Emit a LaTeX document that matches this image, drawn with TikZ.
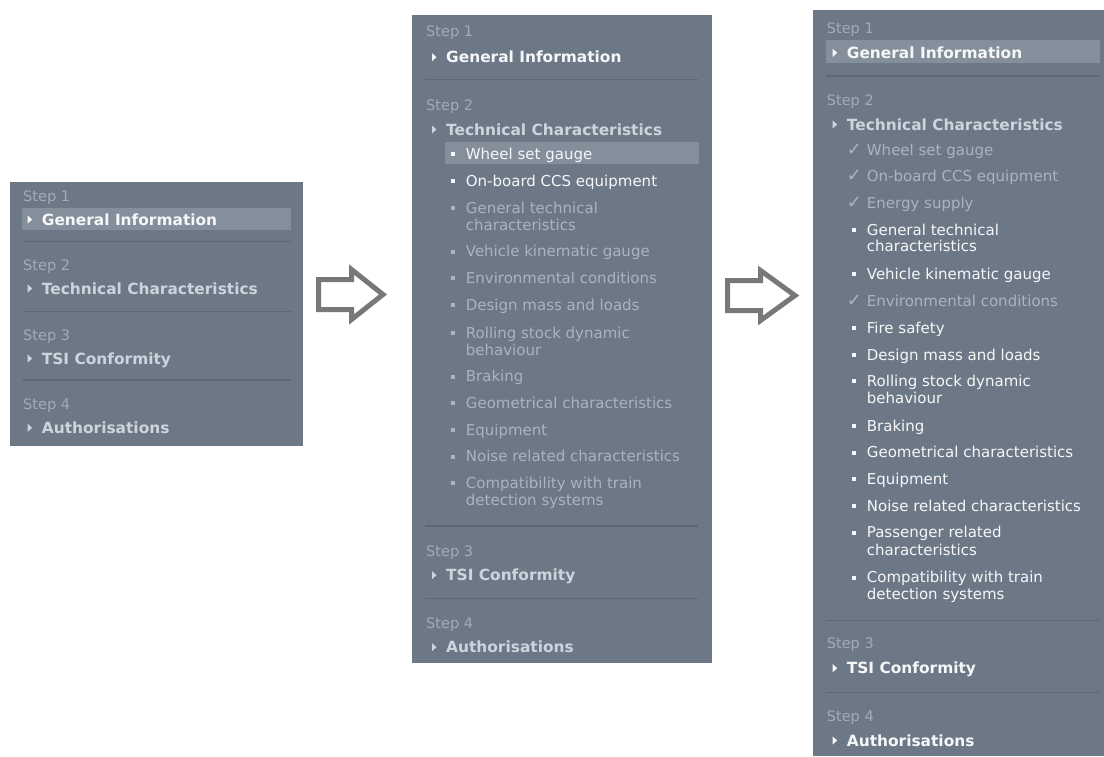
\documentclass[tikz,border=0pt]{standalone}
\usepackage{fontspec}
\newfontfamily\dv{DejaVu Sans}
\definecolor{panelbg}{HTML}{6D7886}
\definecolor{barbg}{HTML}{858F9C}
\definecolor{divline}{HTML}{5E6874}
\definecolor{stepgray}{HTML}{A2ACB7}
\definecolor{dimtxt}{HTML}{ABB4BE}
\definecolor{lighttxt}{HTML}{CDD4DB}
\definecolor{brighttxt}{HTML}{F6F7F9}
\definecolor{arrowgray}{HTML}{787878}
\tikzset{
  steplbl/.style={anchor=base west, inner sep=0pt, text=stepgray, font=\dv\fontsize{14.5}{17}\selectfont},
  headlbl/.style={anchor=base west, inner sep=0pt, font=\dv\bfseries\fontsize{15.4}{18}\selectfont},
  itemlbl/.style={anchor=base west, inner sep=0pt, font=\dv\fontsize{15}{17}\selectfont},
  checklbl/.style={anchor=base west, inner sep=0pt, font=\dv\fontsize{18}{18}\selectfont},
  panel/.style={fill=panelbg},
  hbar/.style={fill=barbg},
  divider/.style={draw=divline, line width=1.2pt},
  bigarrow/.style={draw=arrowgray, line width=5pt, line join=miter, fill=white},
}
% heading with triangle: name, x, y, colour, text
\newcommand{\Head}[5]{%
  \fill[#4] (#2-14,#3-9.5) -- (#2-14,#3-1.5) -- (#2-9.5,#3-5.5) -- cycle;
  \node[headlbl, text=#4] (#1) at (#2,#3) {#5};}
% bulleted item: name, x, y, colour, text
\newcommand{\BItem}[5]{%
  \fill[#4] (#2-15,#3-7) rectangle (#2-11,#3-3);
  \node[itemlbl, text=#4] (#1) at (#2,#3) {#5};}
% continuation line: name, x, y, colour, text
\newcommand{\CItem}[5]{%
  \node[itemlbl, text=#4] (#1) at (#2,#3) {#5};}
% checked item: name, x, y, colour, text
\newcommand{\KItem}[5]{%
  \node[checklbl, text=#4] (#1c) at (#2-20,#3) {✓};
  \node[itemlbl, text=#4] (#1) at (#2,#3) {#5};}
\begin{document}
\begin{tikzpicture}[x=1pt, y=-1pt]
\useasboundingbox (0,0) rectangle (1104,756);
\fill[white] (0,0) rectangle (1104,756);

% ---------------- Panel 1 ----------------
\fill[panel] (10,182) rectangle (303,446);
\fill[hbar] (21.7,207.7) rectangle (291,230);
\node[steplbl] (a1) at (23,201.7) {Step 1};
\Head{ah1}{41.7}{225}{brighttxt}{General Information}
\draw[divider] (22.7,241.7) -- (291,241.7);
\node[steplbl] (a2) at (23,270.7) {Step 2};
\Head{ah2}{41.7}{294}{lighttxt}{Technical Characteristics}
\draw[divider] (22.7,311.7) -- (291,311.7);
\node[steplbl] (a3) at (23,340) {Step 3};
\Head{ah3}{41.7}{364}{lighttxt}{TSI Conformity}
\draw[divider] (22.7,380) -- (291,380);
\node[steplbl] (a4) at (23,409) {Step 4};
\Head{ah4}{41.7}{433.3}{lighttxt}{Authorisations}

% ---------------- Arrow 1 ----------------
\draw[bigarrow] (318.5,279.5) -- (351.5,279.5) -- (351.5,269.5) -- (383,294.5)
  -- (351.5,319.5) -- (351.5,309.5) -- (318.5,309.5) -- cycle;

% ---------------- Panel 2 ----------------
\fill[panel] (412,15) rectangle (712,663.3);
\node[steplbl] (b1) at (426,36.7) {Step 1};
\Head{bh1}{446}{62.7}{brighttxt}{General Information}
\draw[divider] (425,79.3) -- (698,79.3);
\node[steplbl] (b2) at (426,110) {Step 2};
\Head{bh2}{446}{135}{lighttxt}{Technical Characteristics}
\fill[hbar] (445,141.7) rectangle (699,164);
\BItem{bi1}{465.7}{159.3}{brighttxt}{Wheel set gauge}
\BItem{bi2}{465.7}{186}{brighttxt}{On-board CCS equipment}
\BItem{bi3}{465.7}{213.3}{dimtxt}{General technical}
\CItem{bi3b}{465.7}{230}{dimtxt}{characteristics}
\BItem{bi4}{465.7}{256.7}{dimtxt}{Vehicle kinematic gauge}
\BItem{bi5}{465.7}{283.3}{dimtxt}{Environmental conditions}
\BItem{bi6}{465.7}{310}{dimtxt}{Design mass and loads}
\BItem{bi7}{465.7}{338.3}{dimtxt}{Rolling stock dynamic}
\CItem{bi7b}{465.7}{355}{dimtxt}{behaviour}
\BItem{bi8}{465.7}{381.7}{dimtxt}{Braking}
\BItem{bi9}{465.7}{408.3}{dimtxt}{Geometrical characteristics}
\BItem{bi10}{465.7}{435}{dimtxt}{Equipment}
\BItem{bi11}{465.7}{461.7}{dimtxt}{Noise related characteristics}
\BItem{bi12}{465.7}{488.3}{dimtxt}{Compatibility with train}
\CItem{bi12b}{465.7}{505}{dimtxt}{detection systems}
\draw[divider] (425,526) -- (698,526);
\node[steplbl] (b3) at (426,556) {Step 3};
\Head{bh3}{446}{580.7}{lighttxt}{TSI Conformity}
\draw[divider] (425,598.3) -- (698,598.3);
\node[steplbl] (b4) at (426,628.3) {Step 4};
\Head{bh4}{446}{652.7}{lighttxt}{Authorisations}

% ---------------- Arrow 2 ----------------
\draw[bigarrow] (727.5,280.5) -- (760.5,280.5) -- (760.5,270.5) -- (795,295.5)
  -- (760.5,320.5) -- (760.5,310.5) -- (727.5,310.5) -- cycle;

% ---------------- Panel 3 ----------------
\fill[panel] (813,10) rectangle (1104,756);
\fill[hbar] (826,40) rectangle (1100,63.3);
\node[steplbl] (c1) at (826.7,33.3) {Step 1};
\Head{ch1}{846.7}{58.3}{brighttxt}{General Information}
\draw[divider] (826,76) -- (1100,76);
\node[steplbl] (c2) at (826.7,105) {Step 2};
\Head{ch2}{846.7}{130}{lighttxt}{Technical Characteristics}
\KItem{ci1}{866.7}{155}{dimtxt}{Wheel set gauge}
\KItem{ci2}{866.7}{181.7}{dimtxt}{On-board CCS equipment}
\KItem{ci3}{866.7}{208.3}{dimtxt}{Energy supply}
\BItem{ci4}{866.7}{235}{brighttxt}{General technical}
\CItem{ci4b}{866.7}{251.7}{brighttxt}{characteristics}
\BItem{ci5}{866.7}{279.3}{brighttxt}{Vehicle kinematic gauge}
\KItem{ci6}{866.7}{306.7}{dimtxt}{Environmental conditions}
\BItem{ci7}{866.7}{333.3}{brighttxt}{Fire safety}
\BItem{ci8}{866.7}{360}{brighttxt}{Design mass and loads}
\BItem{ci9}{866.7}{386}{brighttxt}{Rolling stock dynamic}
\CItem{ci9b}{866.7}{403.7}{brighttxt}{behaviour}
\BItem{ci10}{866.7}{431}{brighttxt}{Braking}
\BItem{ci11}{866.7}{457.7}{brighttxt}{Geometrical characteristics}
\BItem{ci12}{866.7}{484.3}{brighttxt}{Equipment}
\BItem{ci13}{866.7}{511}{brighttxt}{Noise related characteristics}
\BItem{ci14}{866.7}{537.7}{brighttxt}{Passenger related}
\CItem{ci14b}{866.7}{555.3}{brighttxt}{characteristics}
\BItem{ci15}{866.7}{582.7}{brighttxt}{Compatibility with train}
\CItem{ci15b}{866.7}{599.3}{brighttxt}{detection systems}
\draw[divider] (826,620.3) -- (1100,620.3);
\node[steplbl] (c3) at (826.7,648.7) {Step 3};
\Head{ch3}{846.7}{673.7}{brighttxt}{TSI Conformity}
\draw[divider] (826,692.7) -- (1100,692.7);
\node[steplbl] (c4) at (826.7,721) {Step 4};
\Head{ch4}{846.7}{746}{brighttxt}{Authorisations}
\end{tikzpicture}
\end{document}
